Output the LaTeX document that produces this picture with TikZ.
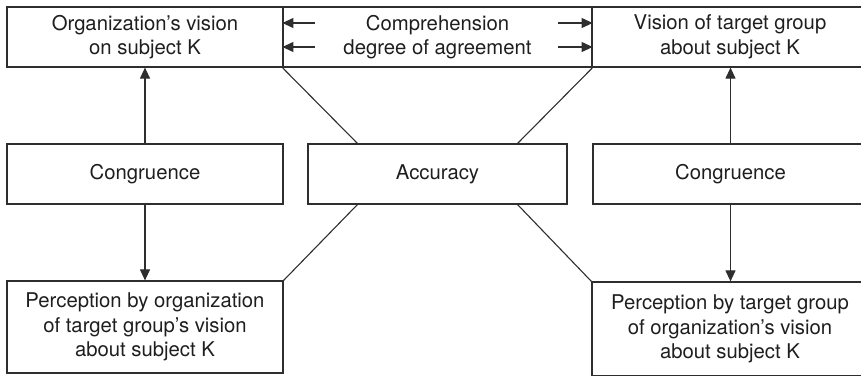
\documentclass[tikz,border=0pt]{standalone}
\usepackage{fontspec}
\setmainfont{TeX Gyre Heros}
\usetikzlibrary{arrows.meta,calc}
\definecolor{ink}{HTML}{1E1E1E}
\definecolor{linecol}{HTML}{2E2E2E}
\begin{document}
\begin{tikzpicture}[x=1pt,y=-1pt,
  box/.style={draw=linecol, line width=1.2pt, rectangle, inner sep=0pt, align=center,
    text=ink, font=\fontsize{20.3}{24.5}\selectfont},
  conn/.style={draw=linecol, line width=1.1pt},
  arr/.style={conn, -{Triangle[length=11pt,width=10pt]}}]
\useasboundingbox (0,0) rectangle (861,375);
\clip (0,0) rectangle (861,375);
% top row
\node[box, minimum width=276pt, minimum height=60pt] (tl) at (145,37) {Organization’s vision\\on subject K};
\node[box, minimum width=309pt, minimum height=60pt] (tm) at (437.5,37) {Comprehension\\degree of agreement};
\node[box, minimum width=276pt, minimum height=60pt] (tr) at (730,37) {Vision of target group\\about subject K};
% middle row
\node[box, minimum width=276pt, minimum height=60pt] (cl) at (145,174) {Congruence};
\node[box, minimum width=259pt, minimum height=60pt] (acc) at (437.5,174) {Accuracy};
\node[box, minimum width=275pt, minimum height=60pt] (cr) at (730.5,174) {Congruence};
% bottom row
\node[box, minimum width=276pt, minimum height=92pt] (bl) at (145,327) {Perception by organization\\of target group’s vision\\about subject K};
\node[box, minimum width=276pt, minimum height=94pt] (br) at (730,329) {Perception by target group\\of organization’s vision\\about subject K};
% arrows inside the comprehension box
\coordinate (la1) at (315,23);
\coordinate (la2) at (315,47);
\coordinate (ra1) at (558,23);
\coordinate (ra2) at (558,47);
\draw[arr] (la1) -- (la1 -| tm.west);
\draw[arr] (la2) -- (la2 -| tm.west);
\draw[arr] (ra1) -- (ra1 -| tm.east);
\draw[arr] (ra2) -- (ra2 -| tm.east);
% congruence arrows
\draw[arr] (cl.north) -- (tl.south);
\draw[arr] (cl.south) -- (bl.north);
\draw[arr] (cr.north) -- (cr.north |- tr.south);
\draw[arr] (cr.south) -- (cr.south |- br.north);
% accuracy diagonals
\coordinate (at1) at ($(acc.north west)+(50,0)$);
\coordinate (at2) at ($(acc.north east)+(-50,0)$);
\coordinate (ab1) at ($(acc.south west)+(50,0)$);
\coordinate (ab2) at ($(acc.south east)+(-50,0)$);
\draw[conn] (tm.south west) -- (at1);
\draw[conn] (tm.south east) -- (at2);
\draw[conn] (ab1) -- (bl.north east);
\draw[conn] (ab2) -- (br.north west);
\end{tikzpicture}
\end{document}
